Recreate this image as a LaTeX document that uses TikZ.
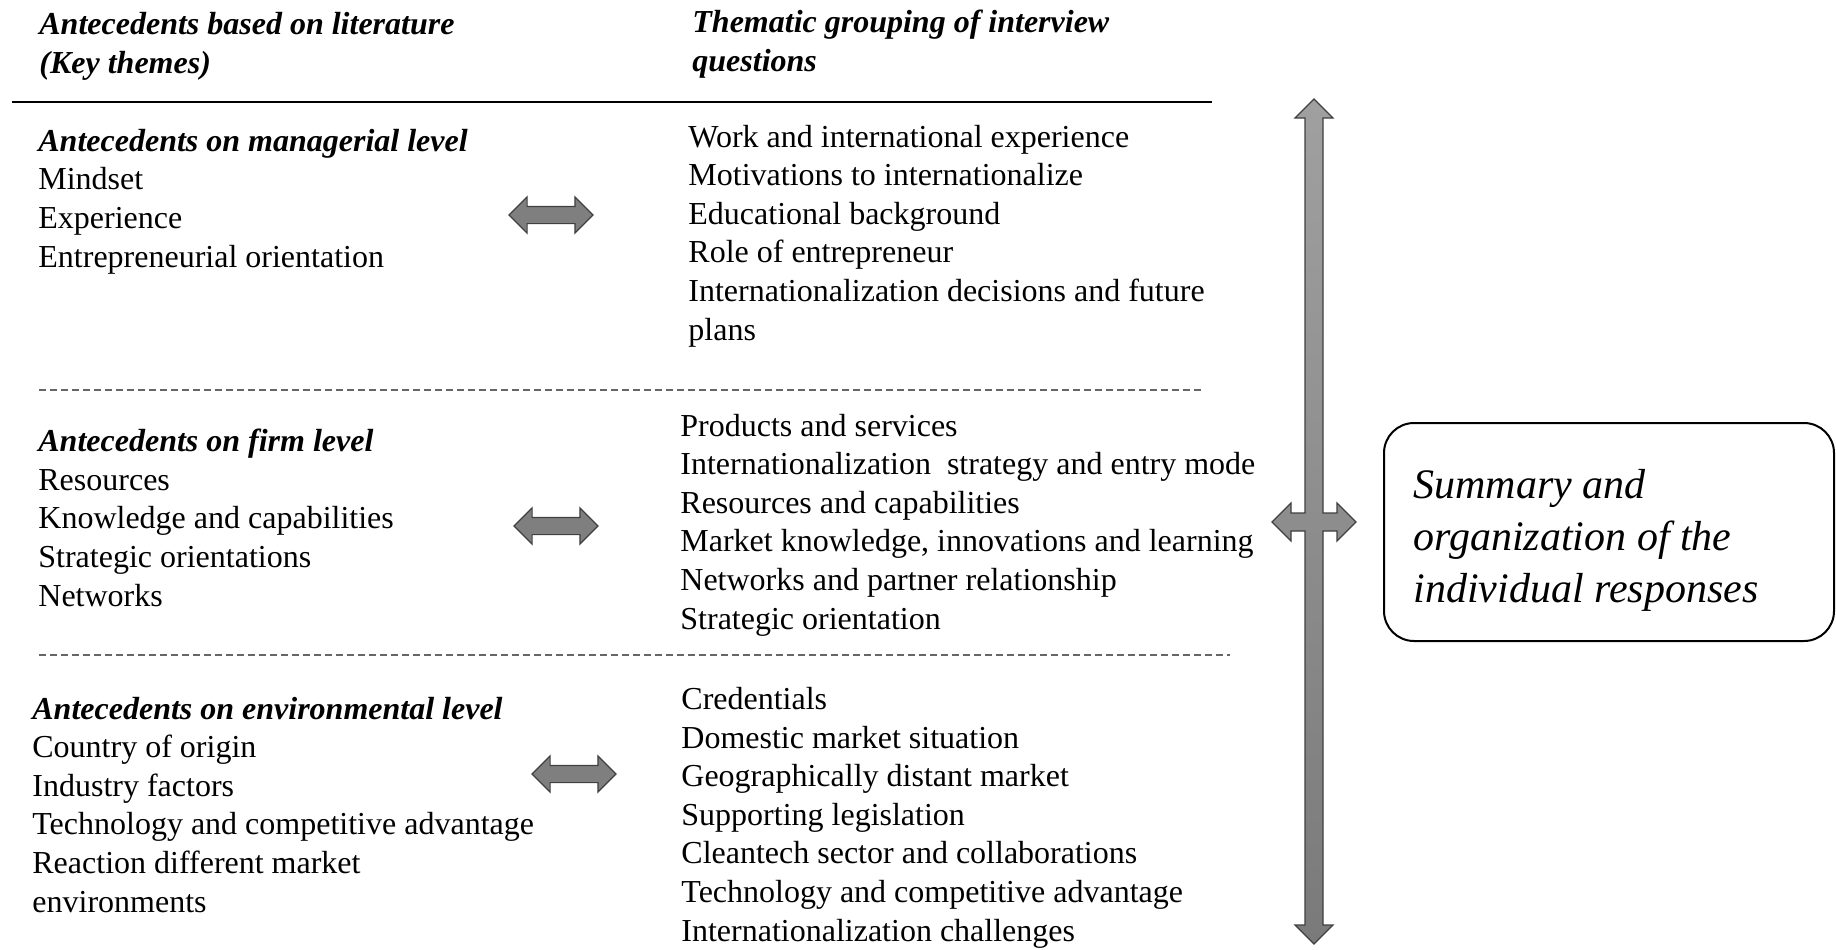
\documentclass[tikz,border=0pt]{standalone}
\usepackage{fontspec}
\setmainfont{Liberation Serif}
\usetikzlibrary{shapes.arrows}

\definecolor{arrowfill}{HTML}{7F7F7F}
\definecolor{arrowline}{HTML}{404040}
\definecolor{arrowtop}{HTML}{A0A0A0}
\definecolor{arrowbot}{HTML}{7A7A7A}
\definecolor{dashgray}{HTML}{666666}

\newcommand{\hd}[1]{\textbf{\textit{#1}}}

\begin{document}
\begin{tikzpicture}[x=0.5pt, y=-0.5pt]

% multi-line nodes: the base anchor sits on the last line
\tikzstyle{txt}=[anchor=base west, inner sep=0pt, align=left,
font=\fontsize{16}{19.3}\selectfont]
\tikzstyle{link}=[double arrow, draw=arrowline, fill=arrowfill, line width=0.6pt,
minimum height=42pt, minimum width=17.5pt, double arrow head extend=4.75pt,
inner xsep=0pt, inner ysep=4pt]
\tikzstyle{sep}=[dashgray, line width=0.6pt, dash pattern=on 3.5pt off 2pt]

\useasboundingbox (0,0) rectangle (1836,949);

% Column headers
\node[txt] (hleft) at (39,73) {\hd{Antecedents based on literature}\\\hd{(Key themes)}};
\node[txt] (hright) at (692,71) {\hd{Thematic grouping of interview}\\\hd{questions}};
\draw[line width=0.75pt] (12,102) -- (1212,102);

% Managerial level
\node[txt] (lman) at (38,267) {\hd{Antecedents on managerial level}\\Mindset\\Experience\\Entrepreneurial orientation};
\node[txt] (rman) at (688,340) {Work and international experience\\Motivations to internationalize\\Educational background\\Role of entrepreneur\\Internationalization decisions and future\\plans};
\node[link] (aman) at (551,215) {};

\draw[sep] (39,390) -- (1203,390);

% Firm level
\node[txt] (lfirm) at (38,606) {\hd{Antecedents on firm level}\\Resources\\Knowledge and capabilities\\Strategic orientations\\Networks};
\node[txt] (rfirm) at (680,629) {Products and services\\Internationalization\ \ strategy and entry mode\\Resources and capabilities\\Market knowledge, innovations and learning\\Networks and partner relationship\\Strategic orientation};
\node[link] (afirm) at (556,526) {};

\draw[sep] (39,655) -- (1230,655);

% Environmental level
\node[txt] (lenv) at (32,912) {\hd{Antecedents on environmental level}\\Country of origin\\Industry factors\\Technology and competitive advantage\\Reaction different market\\environments};
\node[txt] (renv) at (681,941) {Credentials\\Domestic market situation\\Geographically distant market\\Supporting legislation\\Cleantech sector and collaborations\\Technology and competitive advantage\\Internationalization challenges};
\node[link] (aenv) at (574,774) {};

% Vertical arrow with side heads
\shadedraw[top color=arrowtop, bottom color=arrowbot, draw=arrowline, line width=0.6pt]
(1314,99) -- (1333,118) -- (1323,118) -- (1323,513) -- (1337,513) -- (1337,503)
-- (1356,522) -- (1337,541) -- (1337,531) -- (1323,531) -- (1323,925) -- (1333,925)
-- (1314,944) -- (1295,925) -- (1305,925) -- (1305,531) -- (1291,531) -- (1291,541)
-- (1272,522) -- (1291,503) -- (1291,513) -- (1305,513) -- (1305,118) -- (1295,118) -- cycle;

% Summary box
\node[draw, line width=1pt, rounded corners=15pt, minimum width=225pt,
minimum height=109pt] (summary) at (1609,532) {};
\node[txt, font=\fontsize{21}{26}\selectfont\itshape] (sumtext) at (1413,602)
{Summary and\\organization of the\\individual responses};

\end{tikzpicture}
\end{document}
